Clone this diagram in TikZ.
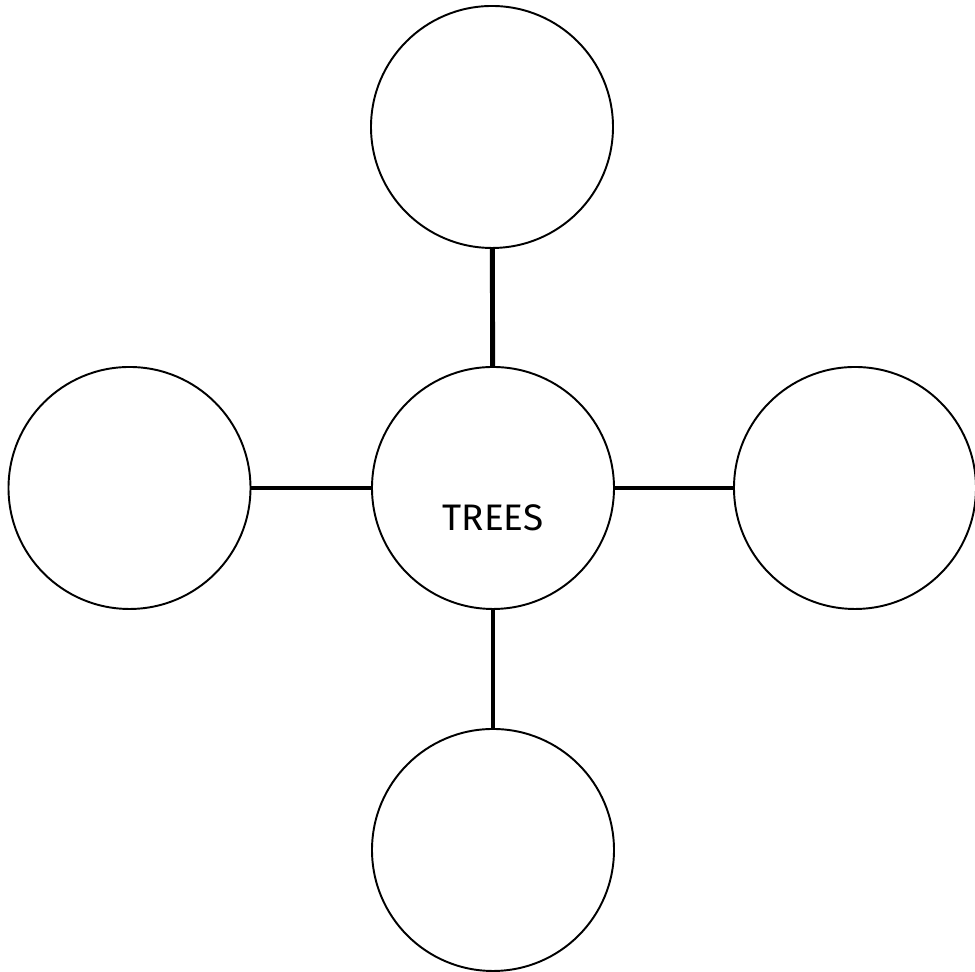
\documentclass[tikz,border=0pt]{standalone}
\usepackage{fontspec}
\setmainfont{Fira Sans}
\usepackage{tikz}
\usetikzlibrary{positioning}

\begin{document}
\begin{tikzpicture}[
    bubble/.style={draw, circle, line width=1.1pt, minimum size=4.84cm, inner sep=0pt},
    link/.style={line width=2.8pt}]
  \useasboundingbox (0,0) rectangle (19.5,19.44);
  \node[bubble] (trees) at (9.86,9.68) {};
  \node[font=\fontsize{21}{24}\selectfont] (title) at (9.86,9.08) {TREES};
  \node[bubble] (up) at (9.84,16.90) {};
  \node[bubble] (down) at (9.86,2.44) {};
  \node[bubble] (west) at (2.59,9.68) {};
  \node[bubble] (east) at (17.10,9.68) {};
  \draw[link] (up) -- (trees);
  \draw[link] (trees) -- (down);
  \draw[link] (west) -- (trees);
  \draw[link] (trees) -- (east);
\end{tikzpicture}
\end{document}
